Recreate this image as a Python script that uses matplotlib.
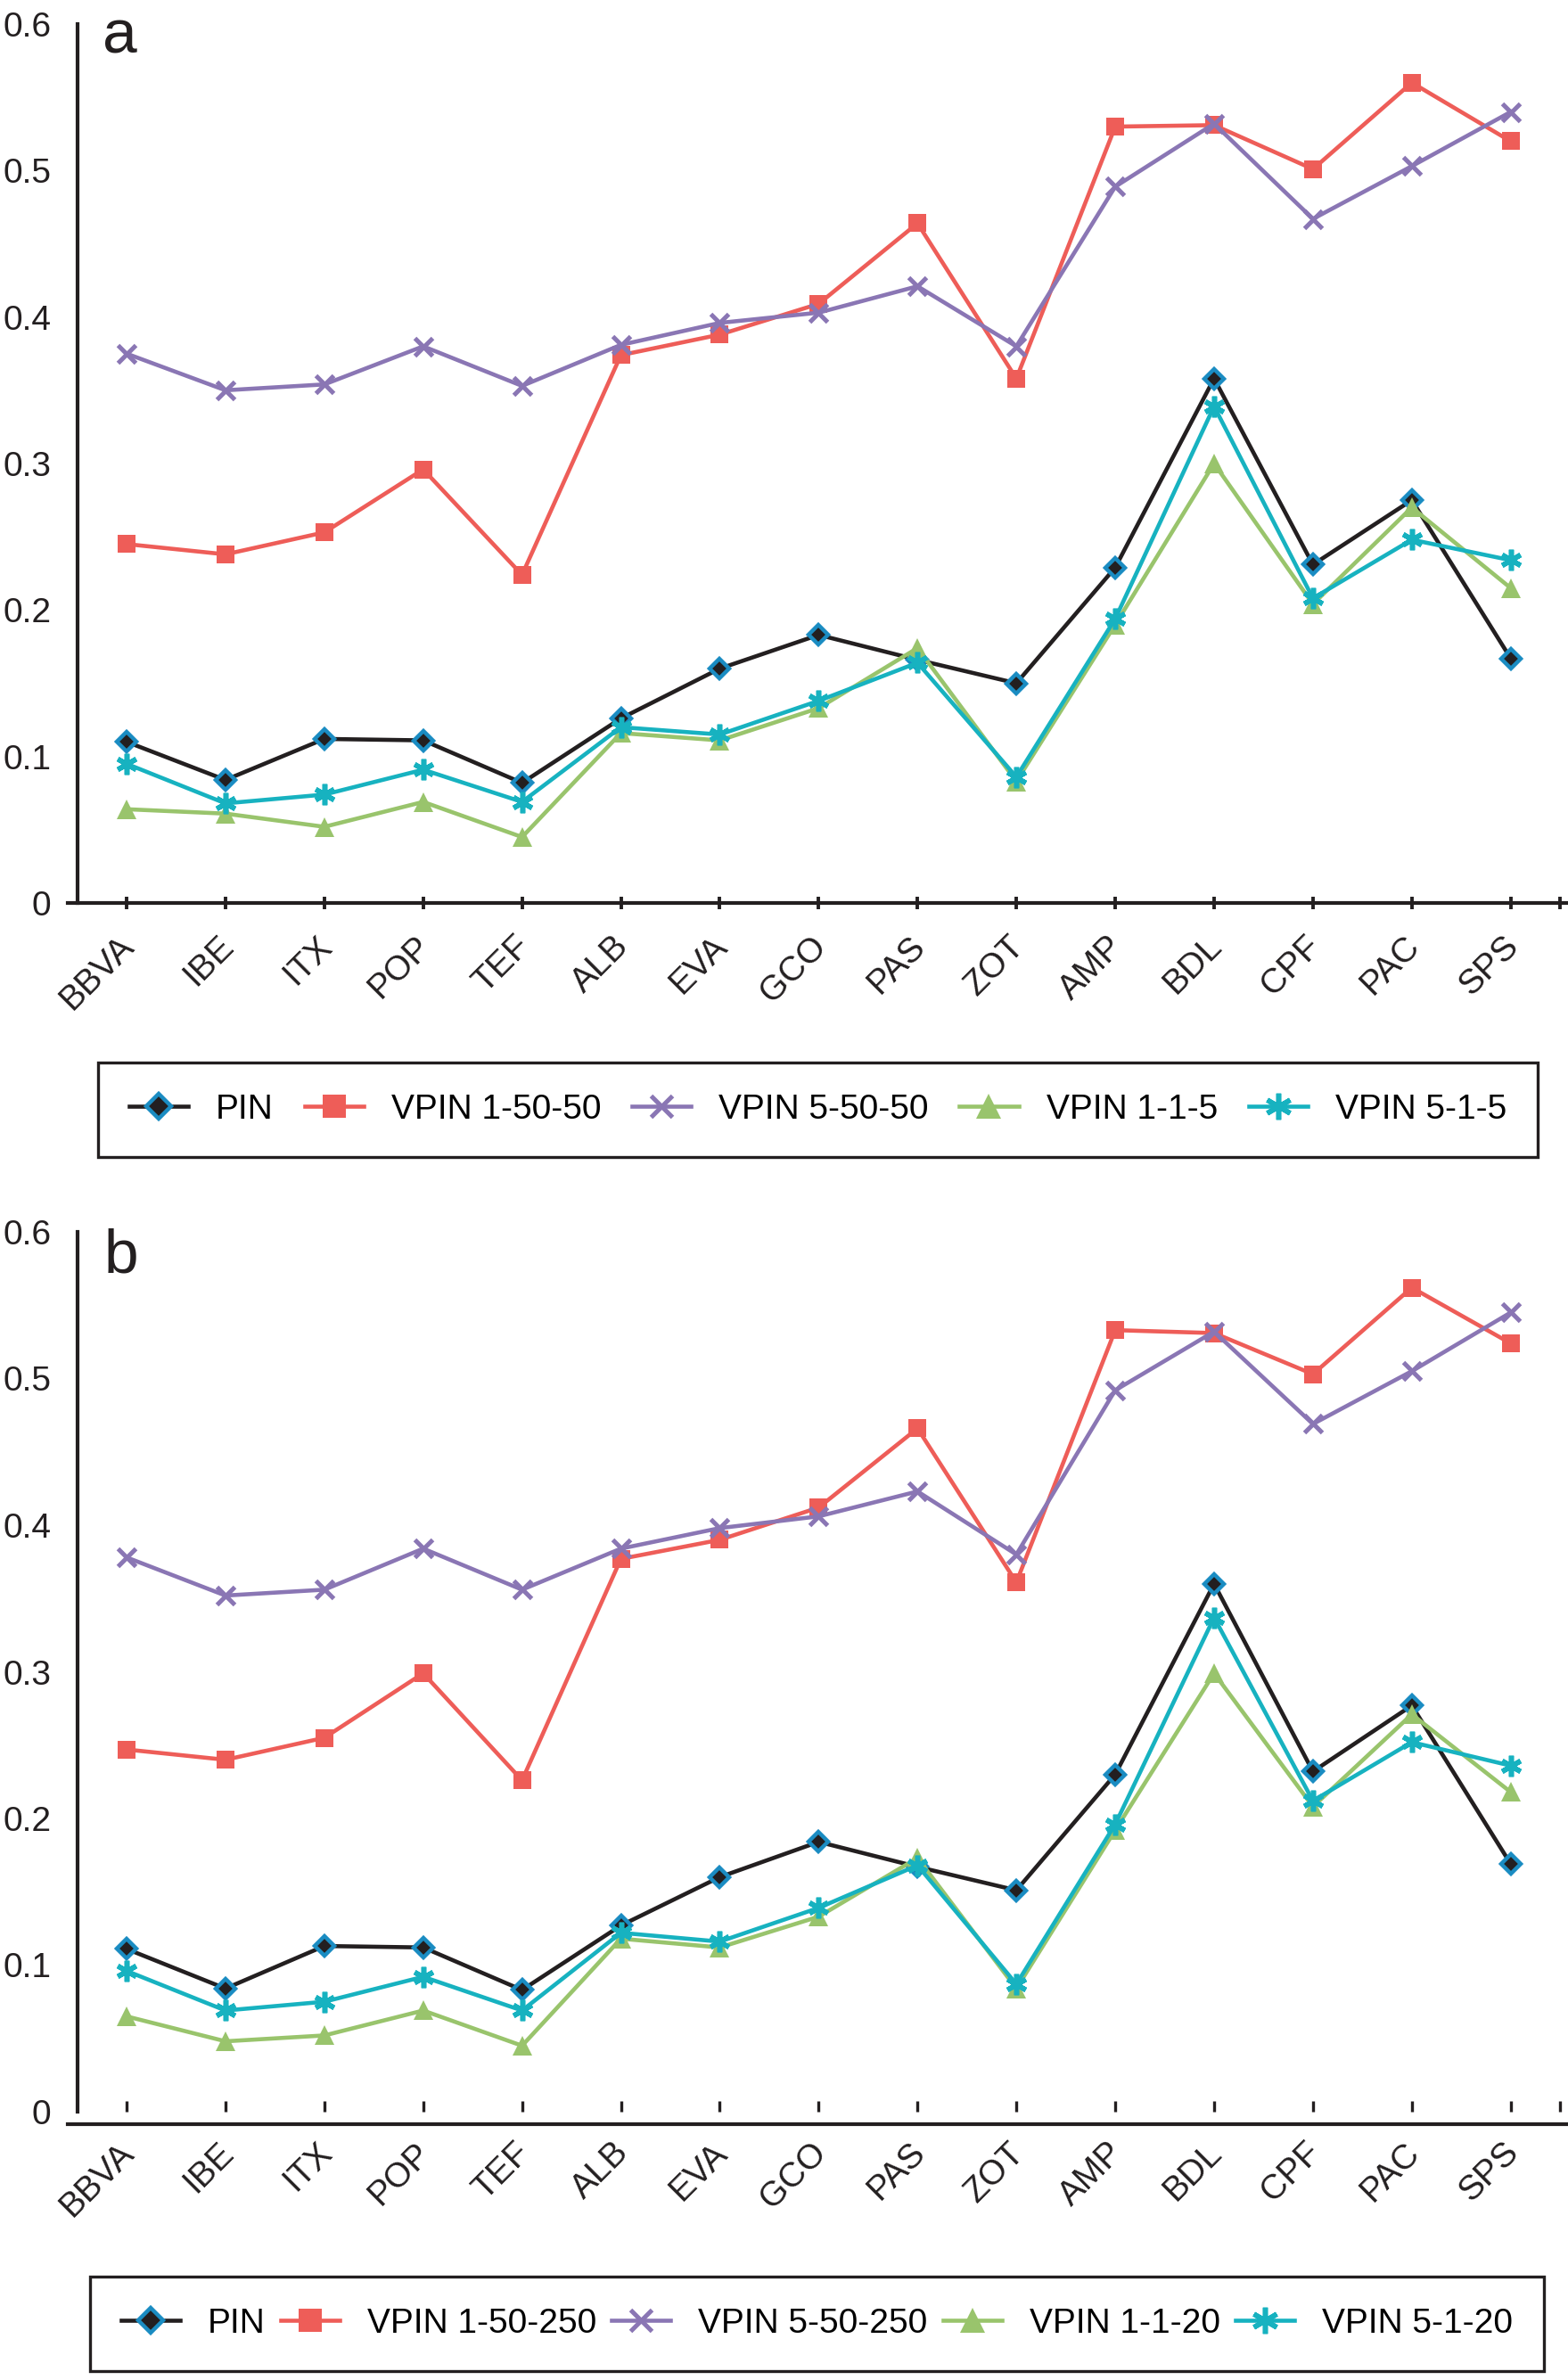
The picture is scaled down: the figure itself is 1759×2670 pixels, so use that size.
import matplotlib
matplotlib.use("Agg")
import matplotlib.pyplot as plt
from matplotlib.lines import Line2D
from matplotlib import transforms

plt.rcParams['font.family'] = ['Liberation Sans', 'DejaVu Sans']

categories = ["BBVA", "IBE", "ITX", "POP", "TEF", "ALB", "EVA", "GCO",
              "PAS", "ZOT", "AMP", "BDL", "CPF", "PAC", "SPS"]
y_ticks = [0, 0.1, 0.2, 0.3, 0.4, 0.5, 0.6]
y_tick_labels = ["0", "0.1", "0.2", "0.3", "0.4", "0.5", "0.6"]

# Panel a
pin_a = [0.110, 0.084, 0.112, 0.111, 0.082, 0.126, 0.160, 0.183, 0.166, 0.150, 0.229, 0.358, 0.231, 0.275, 0.167]
vpin_1_50_50 = [0.245, 0.238, 0.253, 0.296, 0.224, 0.374, 0.388, 0.409, 0.464, 0.358, 0.530, 0.531, 0.501, 0.560, 0.520]
vpin_5_50_50 = [0.375, 0.350, 0.354, 0.380, 0.353, 0.381, 0.396, 0.403, 0.421, 0.380, 0.489, 0.532, 0.467, 0.503, 0.540]
vpin_1_1_5 = [0.064, 0.061, 0.052, 0.069, 0.045, 0.116, 0.111, 0.133, 0.174, 0.083, 0.190, 0.300, 0.204, 0.270, 0.215]
vpin_5_1_5 = [0.095, 0.068, 0.074, 0.091, 0.069, 0.120, 0.115, 0.138, 0.164, 0.086, 0.194, 0.339, 0.208, 0.248, 0.234]
labels_a = ["PIN", "VPIN 1-50-50", "VPIN 5-50-50", "VPIN 1-1-5", "VPIN 5-1-5"]

# Panel b
pin_b = [0.111, 0.084, 0.113, 0.112, 0.083, 0.127, 0.160, 0.184, 0.167, 0.151, 0.230, 0.360, 0.232, 0.277, 0.169]
vpin_1_50_250 = [0.247, 0.240, 0.255, 0.299, 0.226, 0.377, 0.390, 0.412, 0.466, 0.361, 0.533, 0.531, 0.503, 0.562, 0.524]
vpin_5_50_250 = [0.378, 0.352, 0.356, 0.384, 0.356, 0.384, 0.398, 0.406, 0.423, 0.380, 0.492, 0.532, 0.469, 0.505, 0.545]
vpin_1_1_20 = [0.065, 0.048, 0.052, 0.069, 0.045, 0.118, 0.112, 0.133, 0.173, 0.084, 0.192, 0.299, 0.208, 0.271, 0.218]
vpin_5_1_20 = [0.096, 0.069, 0.075, 0.092, 0.069, 0.122, 0.116, 0.139, 0.168, 0.087, 0.196, 0.337, 0.212, 0.252, 0.236]
labels_b = ["PIN", "VPIN 1-50-250", "VPIN 5-50-250", "VPIN 1-1-20", "VPIN 5-1-20"]

BLACK = "#231f20"
styles = [
    dict(color=BLACK, marker="D", markersize=11, markerfacecolor=BLACK,
         markeredgecolor="#1a8cc2", markeredgewidth=3.2),
    dict(color="#ee5d58", marker="s", markersize=15, markeredgewidth=0),
    dict(color="#8a76b4", marker="x", markersize=14, markeredgewidth=3.6),
    dict(color="#99c46c", marker="^", markersize=16, markeredgewidth=0),
    dict(color="#17b2c0", marker=(6, 2, 0), markersize=17, markeredgewidth=4.0),
]

FS = 28
W, H = 1759, 2670
fig = plt.figure(figsize=(W / 100, H / 100), dpi=100)

x = list(range(1, len(categories) + 1))
ax_left = 75.5 / W
ax_width = (W - 75.5) / W

def panel(rect, series, labels, style_b, leg_rect):
    ax = fig.add_axes(rect)
    handles = []
    for vals, st, lab in zip(series, styles, labels):
        h, = ax.plot(x, vals, linewidth=3.3, label=lab, clip_on=False, **st)
        handles.append(h)
    ax.set_xlim(0.4, 15.58)
    ax.set_ylim(0, 0.6)
    for s in ["top", "right"]:
        ax.spines[s].set_visible(False)
    ax.spines["left"].set_position(("data", 0.5))
    ax.spines["left"].set_linewidth(3.0)
    ax.spines["left"].set_color(BLACK)
    ax.set_yticks(y_ticks)
    ax.set_yticklabels(y_tick_labels)
    ax.tick_params(axis="y", length=0, pad=21, labelsize=FS, labelcolor=BLACK)
    ax.set_xticks(x + [15.5])
    ax.set_xticklabels(categories + [""])
    if not style_b:
        ax.spines["bottom"].set_linewidth(3.0)
        ax.spines["bottom"].set_color(BLACK)
        ax.tick_params(axis="x", direction="inout", length=9.5, width=2.8,
                       color=BLACK, pad=17, labelsize=FS, labelcolor=BLACK)
    else:
        ax.spines["bottom"].set_visible(False)
        ax.tick_params(axis="x", direction="in", length=8.6, width=2.4,
                       color=BLACK, pad=20, labelsize=FS, labelcolor=BLACK)
        tr = transforms.offset_copy(ax.transAxes, fig=fig,
                                    x=0, y=-14, units="dots")
        ax.add_line(Line2D([0, 1], [0, 0], transform=tr, color=BLACK,
                           linewidth=3.0, clip_on=False))
    shift = transforms.ScaledTranslation(16 / 100, 0, fig.dpi_scale_trans)
    for lab in ax.get_xticklabels():
        lab.set_rotation(45)
        lab.set_ha("right")
        lab.set_va("top")
        lab.set_transform(lab.get_transform() + shift)
    leg = fig.legend(handles=handles, loc="center", bbox_to_anchor=leg_rect,
                     mode="expand", ncol=5, fontsize=FS, frameon=True,
                     fancybox=False, edgecolor=BLACK, framealpha=1,
                     borderpad=0.9, handlelength=1.7, handletextpad=0.8,
                     markerscale=1.25, borderaxespad=0)
    leg.get_frame().set_linewidth(2.4)
    return ax

ax_a = panel([ax_left, 1657 / H, ax_width, 986 / H],
             [pin_a, vpin_1_50_50, vpin_5_50_50, vpin_1_1_5, vpin_5_1_5],
             labels_a, False,
             (110 / W, 1 - 1306 / H, 1615 / W, 122 / H))
ax_b = panel([ax_left, 301 / H, ax_width, 987 / H],
             [pin_b, vpin_1_50_250, vpin_5_50_250, vpin_1_1_20, vpin_5_1_20],
             labels_b, True,
             (101 / W, 3 / H, 1631 / W, 120 / H))

fig.text(115 / W, 1 - 60 / H, "a", fontsize=50, color=BLACK, va="baseline")
fig.text(117 / W, 1 - 1427 / H, "b", fontsize=50, color=BLACK, va="baseline")

fig.savefig("out.png", dpi=100)
